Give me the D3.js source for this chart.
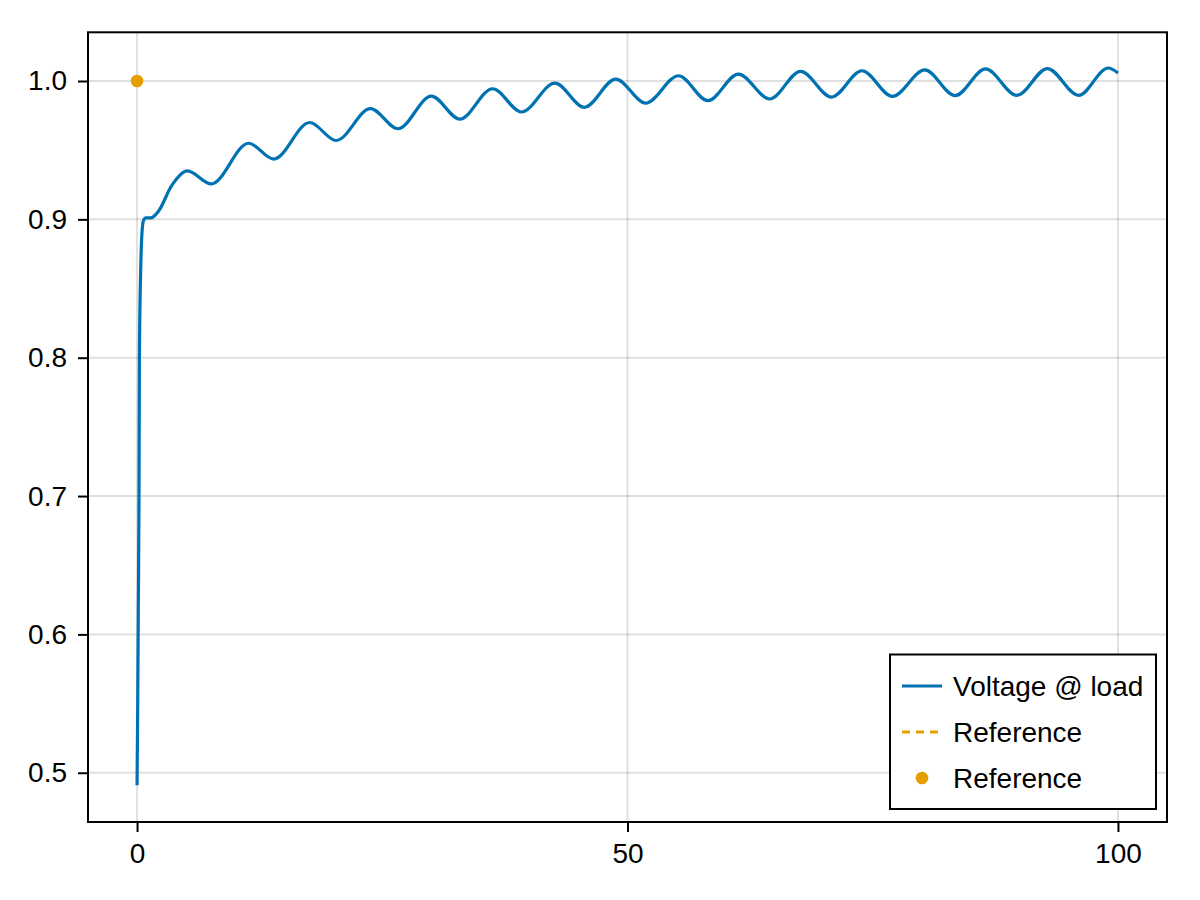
<!DOCTYPE html>
<html>
<head>
<meta charset="utf-8">
<script src="https://cdn.jsdelivr.net/npm/d3@7"></script>
<style>
  body { margin: 0; background: #fff; }
  text { font-family: "Liberation Sans", Arial, sans-serif; }
</style>
</head>
<body>
<svg id="chart"></svg>
<script>
// values (peaks / troughs of the load voltage)
const timeVals = [0, 0.07, 0.13, 0.2, 0.24, 0.38, 0.5, 0.65, 0.9, 1.4,
  2.2, 3.5, 5.13, 7.57, 11.38, 13.93, 17.6, 20.3, 23.8, 26.6, 30.0, 32.9,
  36.26, 39.2, 42.6, 45.6, 48.8, 51.85, 55.2, 58.2, 61.3, 64.5, 67.65, 70.8,
  73.9, 77.0, 80.3, 83.4, 86.5, 89.7, 92.8, 96.0, 99.0, 100];
const voltageVals = [0.491, 0.55, 0.62, 0.70, 0.80, 0.866, 0.89, 0.899, 0.901, 0.901,
  0.906, 0.924, 0.935, 0.9256, 0.955, 0.9436, 0.970, 0.957, 0.980, 0.9655, 0.989, 0.9725,
  0.9944, 0.9776, 0.9985, 0.981, 1.0014, 0.984, 1.0038, 0.9858, 1.005, 0.987, 1.007, 0.9884,
  1.0074, 0.9889, 1.008, 0.9894, 1.0087, 0.9896, 1.009, 0.9896, 1.0094, 1.0058];
const refTime = [0];
const refVals = [1.0];
const xTicks = [0, 50, 100];
const yTicks = [0.5, 0.6, 0.7, 0.8, 0.9, 1.0];
const legendLabels = ['Voltage @ load', 'Reference', 'Reference'];

const blue = '#0072b2';
const orange = '#e69f00';

const width = 1200, height = 900;
const margin = { top: 32.3, right: 33, bottom: 78, left: 88 };
const fontSize = 28;

const svg = d3.select('#chart').attr('width', width).attr('height', height);

const x = d3.scaleLinear().domain([-5, 105]).range([margin.left, width - margin.right]);
const y = d3.scaleLinear().domain([0.4644, 1.0352]).range([height - margin.bottom, margin.top]);

// grid
svg.append('g').selectAll('line').data(xTicks).enter().append('line')
  .attr('x1', d => x(d)).attr('x2', d => x(d))
  .attr('y1', margin.top).attr('y2', height - margin.bottom)
  .attr('stroke', 'rgba(0,0,0,0.12)').attr('stroke-width', 2);
svg.append('g').selectAll('line').data(yTicks).enter().append('line')
  .attr('x1', margin.left).attr('x2', width - margin.right)
  .attr('y1', d => y(d)).attr('y2', d => y(d))
  .attr('stroke', 'rgba(0,0,0,0.12)').attr('stroke-width', 2);

// data
const pts = timeVals.map((t, i) => [t, voltageVals[i]]);
const line = d3.line().x(d => x(d[0])).y(d => y(d[1])).curve(d3.curveMonotoneX);
svg.append('path').datum(pts)
  .attr('d', line).attr('fill', 'none')
  .attr('stroke', blue).attr('stroke-width', 3.2);

svg.append('g').selectAll('circle').data(refTime.map((t, i) => [t, refVals[i]]))
  .enter().append('circle')
  .attr('cx', d => x(d[0])).attr('cy', d => y(d[1])).attr('r', 6.3)
  .attr('fill', orange);

// axes
const xAxis = svg.append('g')
  .attr('transform', `translate(0,${height - margin.bottom})`)
  .call(d3.axisBottom(x).tickValues(xTicks).tickSize(10).tickPadding(11).tickFormat(d3.format('d')));
const yAxis = svg.append('g')
  .attr('transform', `translate(${margin.left},0)`)
  .call(d3.axisLeft(y).tickValues(yTicks).tickSize(10).tickPadding(11).tickFormat(d3.format('.1f')));
[xAxis, yAxis].forEach(a => {
  a.select('.domain').remove();
  a.selectAll('.tick line').attr('stroke', '#000').attr('stroke-width', 2);
  a.selectAll('.tick text').attr('font-size', fontSize).attr('fill', '#000')
    .style('font-family', '"Liberation Sans", Arial, sans-serif');
});

// frame
svg.append('rect')
  .attr('x', margin.left).attr('y', margin.top)
  .attr('width', width - margin.right - margin.left)
  .attr('height', height - margin.bottom - margin.top)
  .attr('fill', 'none').attr('stroke', '#000').attr('stroke-width', 2);

// legend
const lg = svg.append('g').attr('transform', 'translate(890,654.5)');
lg.append('rect').attr('width', 266).attr('height', 154.5)
  .attr('fill', '#fff').attr('stroke', '#000').attr('stroke-width', 2);
const rowY = [31.5, 77.5, 123.5];
lg.append('line').attr('x1', 12).attr('x2', 52).attr('y1', rowY[0]).attr('y2', rowY[0])
  .attr('stroke', blue).attr('stroke-width', 3);
lg.append('line').attr('x1', 12).attr('x2', 52).attr('y1', rowY[1]).attr('y2', rowY[1])
  .attr('stroke', orange).attr('stroke-width', 3).attr('stroke-dasharray', '8,6');
lg.append('circle').attr('cx', 32).attr('cy', rowY[2]).attr('r', 6.3).attr('fill', orange);
lg.selectAll('text.lbl').data(legendLabels).enter().append('text')
  .attr('class', 'lbl')
  .attr('x', 63).attr('y', (d, i) => rowY[i]).attr('dy', '0.35em')
  .attr('font-size', fontSize).attr('fill', '#000')
  .text(d => d);
</script>
</body>
</html>
